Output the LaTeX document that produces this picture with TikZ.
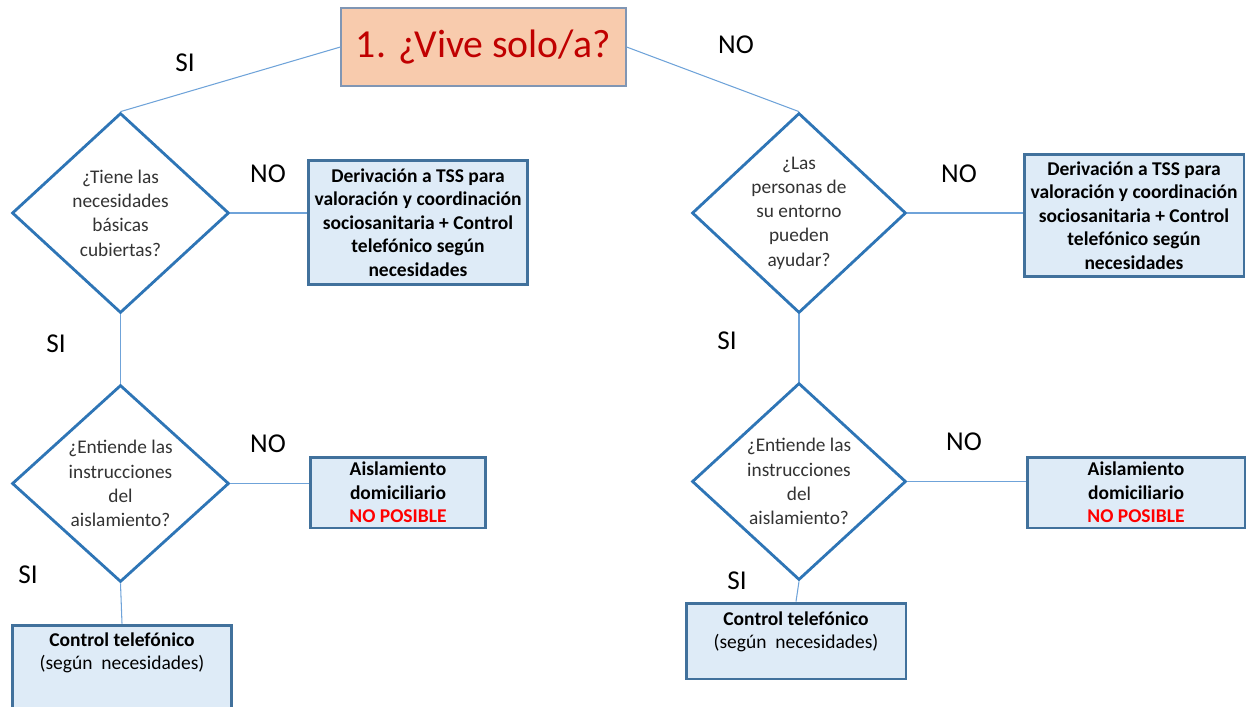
\documentclass[tikz,border=0pt]{standalone}
\usepackage{fontspec}
\setmainfont{Carlito}
\usetikzlibrary{shapes.geometric}
\definecolor{peach}{HTML}{F8CBAD}
\definecolor{peachline}{HTML}{8096B4}
\definecolor{titlered}{HTML}{C00000}
\definecolor{boxfill}{HTML}{DEEBF7}
\definecolor{boxline}{HTML}{41719C}
\definecolor{diamline}{HTML}{2E75B6}
\definecolor{conn}{HTML}{6FA3D9}
\definecolor{qtext}{HTML}{333333}
\definecolor{nored}{HTML}{FF0000}
\tikzset{
  conline/.style={draw=conn, line width=0.6pt},
  decision/.style={diamond, draw=diamline, line width=1.6pt, fill=white, inner sep=0pt, aspect=1},
  qtextstyle/.style={text=qtext, align=center, font=\fontsize{11}{13.8}\selectfont},
  actbox/.style={rectangle, draw=boxline, fill=boxfill, line width=1.7pt, inner sep=0pt, align=center, font=\fontsize{11.1}{13.4}\selectfont\bfseries},
  lbl/.style={font=\fontsize{15.5}{18}\selectfont, inner sep=0pt}
}
\begin{document}
\begin{tikzpicture}[x=0.02cm,y=-0.02cm]
\useasboundingbox (0,0) rectangle (1256,706);
% title
\node[draw=peachline, fill=peach, line width=0.7pt, minimum width=5.7cm, minimum height=1.56cm, inner sep=0pt, text=titlered, font=\fontsize{22.6}{26}\selectfont] (top) at (483.5,47) {1. ¿Vive solo/a?};
% left branch
\node[decision, minimum width=4.34cm, minimum height=4.0cm] (d1) at (120.5,213) {};
\node[qtextstyle] (t1) at (d1.center) {¿Tiene las\\necesidades\\básicas\\cubiertas?};
\node[actbox, minimum width=4.4cm, minimum height=2.5cm] (b1) at (418,222.5) {Derivación a TSS para\\valoración y coordinación\\sociosanitaria + Control\\telefónico según\\necesidades};
\node[decision, minimum width=4.34cm, minimum height=3.94cm] (d2) at (120.5,483.5) {};
\node[qtextstyle] (t2) at (d2.center) {¿Entiende las\\instrucciones\\del\\aislamiento?};
\node[actbox, minimum width=3.52cm, minimum height=1.42cm] (b2) at (398,492.5) {Aislamiento\\domiciliario\\\textcolor{nored}{NO POSIBLE}};
\node[actbox, minimum width=4.4cm, minimum height=1.68cm] (b3) at (122,667) {};
\node[align=center, anchor=north, inner sep=0pt, font=\fontsize{11.1}{13.4}\selectfont] (t3) at (122,632) {\textbf{Control telefónico}\\(según\ \ necesidades)};
% right branch
\node[decision, minimum width=4.28cm, minimum height=4.0cm] (d3) at (799,213) {};
\node[qtextstyle] (t4) at (d3.center) {¿Las\\personas de\\su entorno\\pueden\\ayudar?};
\node[actbox, minimum width=4.4cm, minimum height=2.46cm] (b4) at (1134,215.5) {Derivación a TSS para\\valoración y coordinación\\sociosanitaria + Control\\telefónico según\\necesidades};
\node[decision, minimum width=4.28cm, minimum height=3.94cm] (d4) at (799,481.5) {};
\node[qtextstyle] (t5) at (d4.center) {¿Entiende las\\instrucciones\\del\\aislamiento?};
\node[actbox, minimum width=4.36cm, minimum height=1.42cm] (b5) at (1136,492.5) {Aislamiento\\domiciliario\\\textcolor{nored}{NO POSIBLE}};
\node[actbox, minimum width=4.4cm, minimum height=1.52cm] (b6) at (796,641) {};
\node[align=center, anchor=north, inner sep=0pt, font=\fontsize{11.1}{13.4}\selectfont] (t6) at (796,611) {\textbf{Control telefónico}\\(según\ \ necesidades)};
% connectors
\draw[conline] (top.west) -- (d1.north);
\draw[conline] (top.east) -- (d3.north);
\draw[conline] (d1.east) -- (d1.east -| b1.west);
\draw[conline] (d1.south) -- (d2.north);
\draw[conline] (d2.east) -- (d2.east -| b2.west);
\draw[conline] (d2.south) -- (b3.north);
\draw[conline] (d3.east) -- (d3.east -| b4.west);
\draw[conline] (d3.south) -- (d4.north);
\draw[conline] (d4.east) -- (d4.east -| b5.west);
\draw[conline] (d4.south) -- (b6.north);
% labels
\node[lbl] (l1) at (185,63) {SI};
\node[lbl] (l2) at (736,45) {NO};
\node[lbl] (l3) at (268,174) {NO};
\node[lbl] (l4) at (56,344) {SI};
\node[lbl] (l5) at (268,444) {NO};
\node[lbl] (l6) at (28,575) {SI};
\node[lbl] (l7) at (959,174) {NO};
\node[lbl] (l8) at (727,341) {SI};
\node[lbl] (l9) at (964,442) {NO};
\node[lbl] (l10) at (737,581) {SI};
\end{tikzpicture}
\end{document}
